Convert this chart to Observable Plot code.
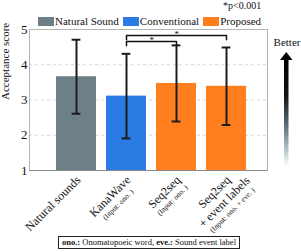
<!DOCTYPE html>
<html><head><meta charset="utf-8">
<script src="https://cdn.jsdelivr.net/npm/d3@7"></script>
<script src="https://cdn.jsdelivr.net/npm/@observablehq/plot@0.6"></script>
<style>
html,body{margin:0;padding:0;background:#fff;}
#wrap{position:relative;width:301px;height:252px;overflow:hidden;font-family:"Liberation Serif","Times New Roman",Tinos,"DejaVu Serif",serif;color:#111;}
#chart{position:absolute;left:0;top:0;}
#chart svg text{font-family:"Liberation Serif","Times New Roman",Tinos,"DejaVu Serif",serif;}
.legend{position:absolute;left:38px;top:15px;display:flex;align-items:center;font-size:11px;line-height:12px;white-space:nowrap;}
.legend .sw{display:inline-block;width:16px;height:9px;margin-right:1px;}
.legend .item{display:flex;align-items:center;margin-right:4px;}
#pval{position:absolute;left:223px;top:0px;font-size:10px;line-height:12px;}
#better{position:absolute;left:272px;top:36px;width:30px;text-align:center;font-size:11px;line-height:12px;}
#arrow{position:absolute;left:279px;top:51px;}
#note{position:absolute;left:58px;top:236px;border:1.2px solid #222;font-size:8.5px;padding:0 3px;line-height:10.5px;white-space:nowrap;}
</style></head>
<body>
<div id="wrap">
  <div id="chart"></div>
  <div class="legend" id="legend"></div>
  <div id="pval"></div>
  <div id="better"></div>
  <svg id="arrow" width="16" height="120" viewBox="0 0 16 120">
    <defs>
      <linearGradient id="g" x1="0" y1="0" x2="0" y2="1">
        <stop offset="0" stop-color="#000"/>
        <stop offset="0.35" stop-color="#141418"/>
        <stop offset="0.6" stop-color="#55666e"/>
        <stop offset="0.85" stop-color="#b5c5c9"/>
        <stop offset="1" stop-color="#ffffff"/>
      </linearGradient>
    </defs>
    <rect x="5" y="7" width="4.5" height="108" fill="url(#g)"/>
    <path d="M1,9 L7.25,1 L13.5,9 Z" fill="#000"/>
  </svg>
  <div id="note"></div>
</div>
<script>
// ---- data ----
const categories = ["Natural sounds", "KanaWave", "Seq2seq", "Seq2seq + event labels"];
const groups = ["Natural Sound", "Conventional", "Proposed", "Proposed"];
const means = [3.66, 3.11, 3.47, 3.39];
const sds = [1.05, 1.20, 1.08, 1.10];
const groupNames = ["Natural Sound", "Conventional", "Proposed"];
const groupColors = ["#6e8087", "#2a7be4", "#ff7f1e"];
const tickMain = [["Natural sounds"], ["KanaWave"], ["Seq2seq"], ["Seq2seq", "+ event labels"]];
const tickSub = [null, "(Input: ono. )", "(Input: ono. )", "(Input: ono. + eve. )"];
const gridValues = [2, 3, 4];
const comparisons = [
  {from: "KanaWave", to: "Seq2seq", level: 4.66, label: "*"},
  {from: "KanaWave", to: "Seq2seq + event labels", level: 4.83, label: "*"}
];
const pText = "*p<0.001";
const yLabel = "Acceptance score";
const betterText = "Better";
const noteParts = [["ono.:", true], [" Onomatopoeic word, ", false], ["eve.:", true], [" Sound event label", false]];

// ---- build ----
const rows = categories.map((c, i) => ({category: c, group: groups[i], mean: means[i], lo: means[i] - sds[i], hi: means[i] + sds[i]}));
const xRange = [50, 251.3];
const step = (xRange[1] - xRange[0]) / categories.length;
const bw = step * 0.8;
const FONT = "'Liberation Serif','Times New Roman',Tinos,'DejaVu Serif',serif";
const ctx = document.createElement("canvas").getContext("2d");
function measure(t, size) { ctx.font = `${size}px ${FONT}`; return ctx.measureText(t).width; }

const MAIN = 12, SUB = 7.5, mainGap = 14, subGap = 11.5;
const c45 = Math.SQRT1_2;
const labelMarks = [];
categories.forEach((cat, i) => {
  const lines = tickMain[i].map(t => ({t, size: MAIN}));
  if (tickSub[i]) lines.push({t: tickSub[i], size: SUB});
  const w0 = measure(lines[0].t, MAIN);
  let cy = 0;
  lines.forEach((ln, j) => {
    if (j > 0) cy += ln.size === SUB ? subGap : mainGap;
    const lx = -w0 / 2, ly = cy;
    const dx = 2 + c45 * (lx + ly), dy = 7.5 + c45 * (ly - lx);
    labelMarks.push(Plot.text([cat], {x: d => d, frameAnchor: "bottom", text: () => ln.t, rotate: -45,
      fontSize: ln.size, textAnchor: "middle", lineAnchor: "middle", dx, dy, fill: "#111"}));
  });
});

const drop = 0.12;
const bracketPts = comparisons.flatMap((c, k) => [
  {k, x: c.from, y: c.level - drop}, {k, x: c.from, y: c.level},
  {k, x: c.to, y: c.level}, {k, x: c.to, y: c.level - drop}]);
const starMarks = comparisons.map(c => Plot.text([c], {x: "from", y: "level", text: "label",
  dx: (categories.indexOf(c.to) - categories.indexOf(c.from)) * step / 2, dy: -1,
  lineAnchor: "middle", fontSize: 9, fill: "#111"}));

const chart = Plot.plot({
  width: 301, height: 252,
  marginLeft: 29, marginRight: 34, marginTop: 29, marginBottom: 82,
  style: {fontFamily: FONT, fontSize: "13px", color: "#111", background: "transparent", overflow: "visible"},
  x: {domain: categories, range: xRange, paddingInner: 0.2, paddingOuter: 0.1, axis: null},
  y: {domain: [1, 5], ticks: 4, tickSize: 0, tickPadding: 2, label: null, tickFormat: d => String(d)},
  color: {domain: groupNames, range: groupColors},
  marks: [
    Plot.ruleY(gridValues, {stroke: "#d6d6d6", strokeDasharray: "3,3"}),
    Plot.frame({stroke: "#b5b5b5"}),
    Plot.barY(rows, {x: "category", y1: () => 1, y2: "mean", fill: "group"}),
    Plot.ruleX(rows, {x: "category", y1: "lo", y2: "hi", stroke: "#1c1c1c", strokeWidth: 2}),
    Plot.tickY(rows, {x: "category", y: "hi", stroke: "#1c1c1c", strokeWidth: 2, insetLeft: (bw - 9) / 2, insetRight: (bw - 9) / 2}),
    Plot.tickY(rows, {x: "category", y: "lo", stroke: "#1c1c1c", strokeWidth: 2, insetLeft: (bw - 9) / 2, insetRight: (bw - 9) / 2}),
    Plot.ruleY([1], {stroke: "#888"}),
    Plot.line(bracketPts, {x: "x", y: "y", z: "k", stroke: "#111", strokeWidth: 1.5}),
    ...starMarks,
    ...labelMarks,
    Plot.text([yLabel], {frameAnchor: "left", text: d => d, rotate: -90, dx: -24, fontSize: 11, fill: "#111"})
  ]
});
document.getElementById("chart").appendChild(chart);

// legend
const leg = document.getElementById("legend");
groupNames.forEach((g, i) => {
  const it = document.createElement("span"); it.className = "item";
  const sw = document.createElement("span"); sw.className = "sw"; sw.style.background = groupColors[i];
  it.appendChild(sw); it.appendChild(document.createTextNode(g)); leg.appendChild(it);
});
document.getElementById("pval").textContent = pText;
document.getElementById("better").textContent = betterText;
const note = document.getElementById("note");
noteParts.forEach(([t, b]) => { const s = document.createElement(b ? "b" : "span"); s.textContent = t; note.appendChild(s); });
</script>
</body></html>
